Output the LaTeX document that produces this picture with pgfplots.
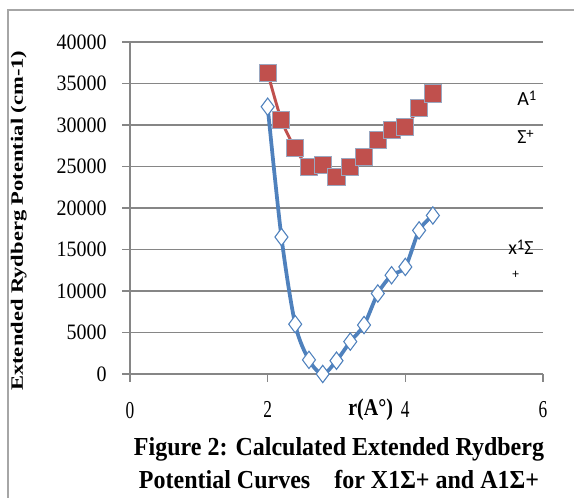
\documentclass[border=0pt]{standalone}
\usepackage{graphicx}
\usepackage{pgfplots}
\pgfplotsset{compat=1.18}
\usepackage{fontspec}
\setmainfont{Liberation Serif}
\newfontfamily\calibri{Carlito}
\definecolor{gridgray}{HTML}{868686}
\definecolor{framegray}{HTML}{A6A6A6}
\definecolor{xblue}{HTML}{4F81BD}
\definecolor{ared}{HTML}{C0504D}
\definecolor{sqedge}{HTML}{9AA7C0}
\newcommand{\hisup}[1]{\raisebox{0.55ex}{\fontsize{11}{11}\selectfont #1}}

\begin{document}
\begin{tikzpicture}
\useasboundingbox (0pt,0pt) rectangle (430.5pt,373.5pt);
\draw[framegray, line width=1.1pt] (6pt,0pt) -- (6pt,366pt) -- (430.5pt,366pt);

\begin{axis}[
  at={(97.5pt,93pt)}, anchor=south west,
  scale only axis, width=309.75pt, height=249pt,
  xmin=0, xmax=6, ymin=0, ymax=40000,
  xtick={0,2,4,6}, ytick={0,5000,...,40000},
  axis x line*=bottom, axis y line*=left,
  axis line style={gridgray, line width=1.1pt},
  ymajorgrids, grid style={gridgray, line width=1.1pt},
  tick style={gridgray, line width=1.1pt},
  tick align=outside, major tick length=6pt,
  scaled y ticks=false,
  /pgf/number format/assume math mode=true,
  /pgf/number format/1000 sep={},
  yticklabel style={font=\fontsize{15}{15}\selectfont, xshift=-8pt, yscale=1.1},
  xticklabel style={font=\fontsize{13}{13}\selectfont, yshift=-10pt, yscale=1.4},
  clip=false,
]
\addplot[xblue, line width=2.8pt, smooth, mark=diamond*, mark size=6.5pt,
  mark options={fill=white, draw=xblue, line width=0.8pt}] coordinates {
  (2.0,32200) (2.2,16500) (2.4,6000) (2.6,1700) (2.8,0) (3.0,1600) (3.2,3900)
  (3.4,5900) (3.6,9700) (3.8,11900) (4.0,12900) (4.2,17300) (4.4,19100)
};
\addplot[ared, line width=2.2pt, smooth, mark=square*, mark size=6.4pt,
  mark options={fill=ared, draw=sqedge, line width=0.7pt}] coordinates {
  (2.0,36300) (2.2,30600) (2.4,27200) (2.6,24900) (2.8,25200) (3.0,23700) (3.2,24900)
  (3.4,26100) (3.6,28200) (3.8,29400) (4.0,29800) (4.2,32000) (4.4,33800)
};
\end{axis}

% axis title and caption
\node[rotate=90, font=\bfseries\fontsize{13}{13}\selectfont] at (14pt,208pt)
  {\scalebox{1.3}[1]{Extended Rydberg Potential (cm-1)}};
\node[font=\bfseries\fontsize{15}{15}\selectfont] at (278pt,66pt)
  {\scalebox{1}[1.2]{r(A°)}};
\node[anchor=base, font=\bfseries\fontsize{18}{18}\selectfont] at (254.25pt,31.5pt)
  {\scalebox{1}[1.08]{Figure 2: Calculated Extended Rydberg}};
\node[anchor=base, font=\bfseries\fontsize{18}{18}\selectfont] at (254.25pt,6.75pt)
  {\scalebox{1}[1.08]{Potential Curves\quad for X1Σ+ and A1Σ+}};

% series labels
\node[anchor=west, font=\calibri\fontsize{15}{15}\selectfont, inner sep=0pt] at (387.75pt,300pt) {A\hisup{1}};
\node[anchor=west, font=\calibri\fontsize{15}{15}\selectfont, inner sep=0pt] at (387.75pt,271pt) {Σ\hisup{+}};
\node[anchor=west, font=\calibri\fontsize{15}{15}\selectfont, inner sep=0pt] at (381pt,188pt) {x\hisup{1}Σ};
\node[anchor=west, font=\calibri\fontsize{10}{10}\selectfont, inner sep=0pt] at (384pt,167.25pt) {+};
\end{tikzpicture}
\end{document}
